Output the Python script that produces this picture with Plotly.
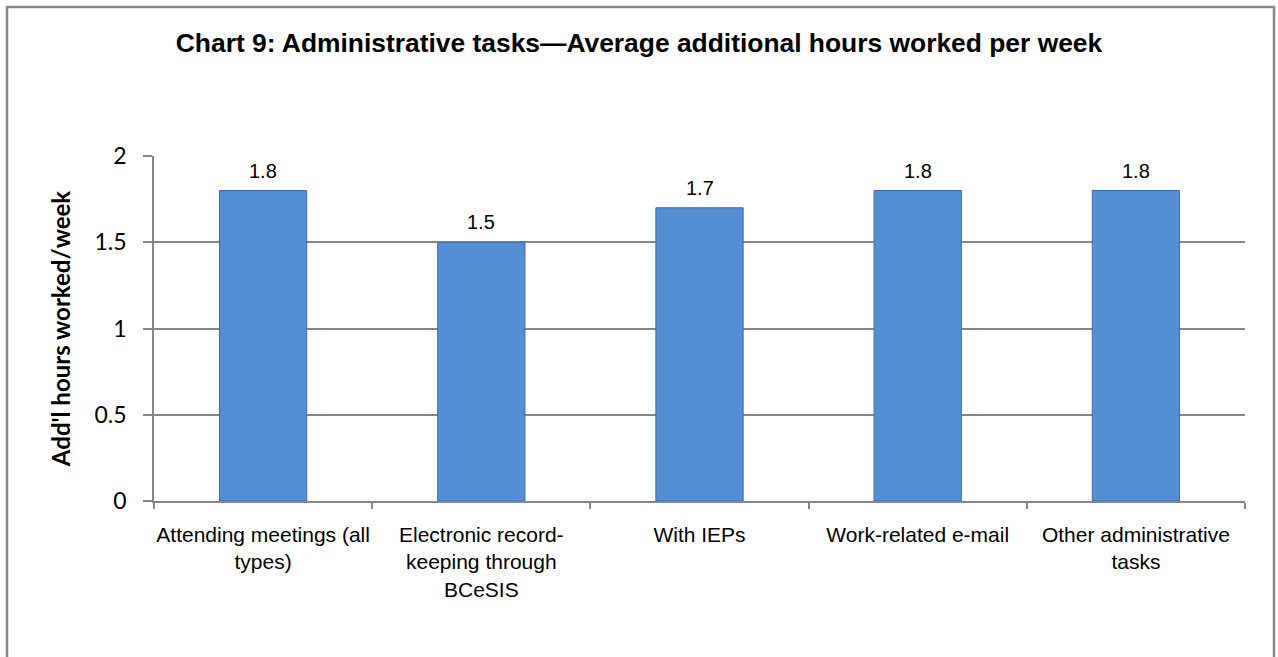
import plotly.graph_objects as go

categories = [
    "Attending meetings (all<br>types)",
    "Electronic record-<br>keeping through<br>BCeSIS",
    "With IEPs",
    "Work-related e-mail",
    "Other administrative<br>tasks",
]
values = [1.8, 1.5, 1.7, 1.8, 1.8]
value_labels = ["1.8", "1.5", "1.7", "1.8", "1.8"]
y_ticks = [0, 0.5, 1, 1.5, 2]
y_tick_labels = ["0", "0.5", "1", "1.5", "2"]

W, H = 1278, 657
L, R, T, B = 154, 33, 156, 156
pw = W - L - R
ph = H - T - B

def px(x):
    return (x - L) / pw

def py(y):
    return (H - B - y) / ph

fig = go.Figure()
fig.add_trace(go.Bar(
    x=categories,
    y=values,
    marker=dict(color="#558ED5", line=dict(color="#3C6AAE", width=1)),
    width=0.40,
))

annotations = [
    dict(x=c, y=v, xref="x", yref="y", text=t, showarrow=False,
         yanchor="bottom", yshift=7,
         font=dict(family="Liberation Sans, Arial", size=20, color="#000000"))
    for c, v, t in zip(categories, values, value_labels)
]

fig.update_layout(
    width=W, height=H,
    margin=dict(l=L, r=R, t=T, b=B, autoexpand=False),
    paper_bgcolor="white",
    plot_bgcolor="white",
    showlegend=False,
    annotations=annotations,
    title=dict(
        text="<b>Chart 9: Administrative tasks\u2014Average additional hours worked per week</b>",
        xref="container", yref="container",
        x=639 / W, xanchor="center", y=1 - 43 / H, yanchor="middle",
        font=dict(family="Liberation Sans, Arial", size=26.4, color="#000000"),
    ),
    shapes=[
        dict(type="rect", xref="paper", yref="paper",
             x0=px(7), x1=px(1274), y0=py(720), y1=py(7),
             line=dict(color="#898989", width=2.5), fillcolor="rgba(0,0,0,0)", layer="below"),
    ],
)

fig.update_xaxes(
    showgrid=False,
    showline=True, linecolor="#868686", linewidth=1.5,
    ticks="outside", tickson="boundaries", ticklen=6, tickcolor="#868686", tickwidth=1.5,
    tickfont=dict(family="Liberation Sans, Arial", size=21, color="#000000"),
    tickangle=0,
    ticklabelstandoff=14,
    automargin=False,
    fixedrange=True,
)
fig.update_yaxes(
    range=[0, 2],
    tickvals=y_ticks, ticktext=y_tick_labels,
    showgrid=True, gridcolor="#868686", gridwidth=1.5,
    showline=True, linecolor="#868686", linewidth=1.5,
    ticks="outside", ticklen=9, tickcolor="#868686", tickwidth=1.5,
    tickfont=dict(family="Lato, Calibri", size=23, color="#000000"),
    ticklabelstandoff=12,
    zeroline=False,
    automargin=False,
    title=dict(text="<b>Add'l hours worked/week</b>",
               font=dict(family="Lato, Calibri", size=24, color="#000000"),
               standoff=17),
    fixedrange=True,
)

fig.write_html("out.html",
               config={"displayModeBar": False},
               post_script="document.body.style.margin='0';document.body.style.overflow='hidden';")
